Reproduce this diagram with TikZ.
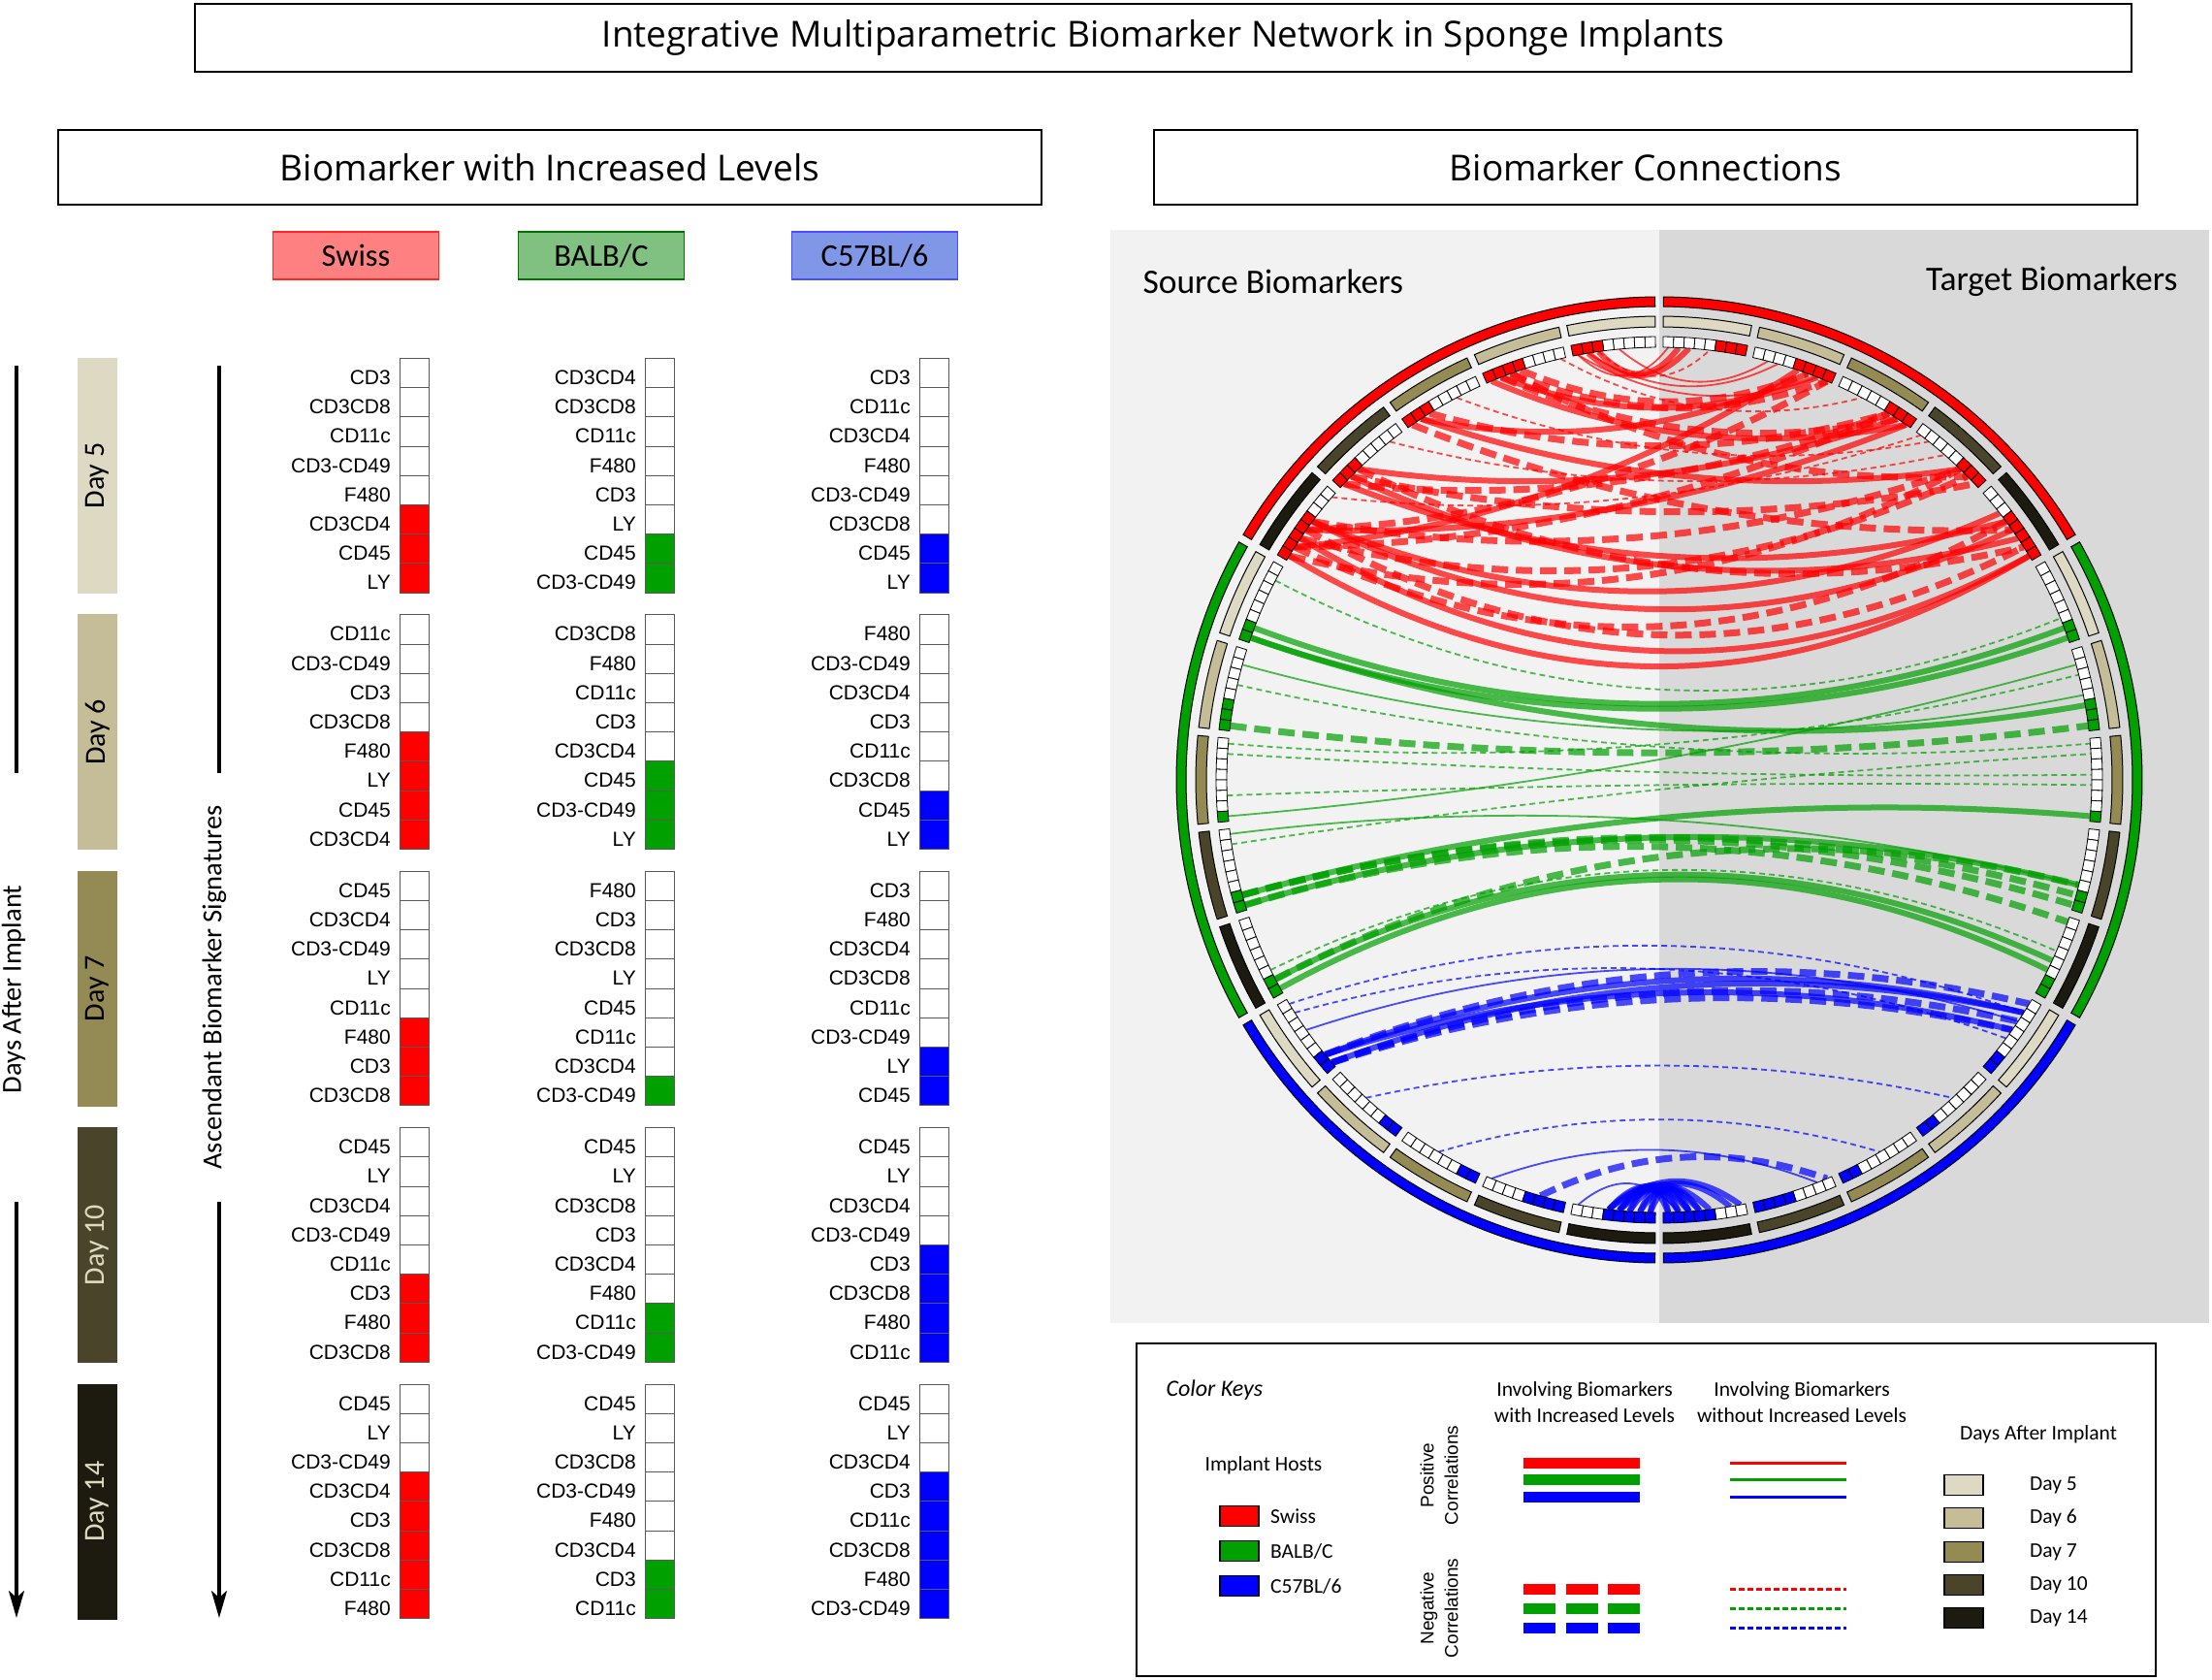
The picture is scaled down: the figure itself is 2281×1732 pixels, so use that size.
\documentclass[tikz,border=0pt]{standalone}
\usepackage{fontspec}
\setmainfont{Carlito}
\newfontfamily\arialf{Liberation Sans}
\newfontfamily\osans{Open Sans}
\usetikzlibrary{arrows.meta,calc}
\definecolor{hR}{HTML}{FF0000}
\definecolor{hG}{HTML}{00A000}
\definecolor{hB}{HTML}{0000FF}
\definecolor{dayc0}{HTML}{DDD9C3}
\definecolor{dayc1}{HTML}{C4BD97}
\definecolor{dayc2}{HTML}{948A54}
\definecolor{dayc3}{HTML}{4A452A}
\definecolor{dayc4}{HTML}{1D1B10}
\definecolor{bgL}{HTML}{F2F2F2}
\definecolor{bgR}{HTML}{D9D9D9}
\definecolor{swR}{HTML}{FF8080}
\definecolor{swG}{HTML}{80C080}
\definecolor{swB}{HTML}{7F97E6}
\newcommand\tgroup[5]{%
  \foreach \lab [count=\rr from 0] in {#5} {
    \pgfmathsetmacro\yy{369.5+264.4*#2+30.2*\rr}
    \pgfmathtruncatemacro\isc{\rr>7-#3}
    \ifnum\isc=1 \def\fc{#4}\else\def\fc{white}\fi
    \draw[cellbox, fill=\fc] (#1,\yy) rectangle ++(30,30.2);
    \node[lab] (t-#1-#2-\rr) at (#1-9,\yy+27) {\lab};
  }}
\newcommand\annsec[5]{\draw[#5] (#1:#3) arc[start angle=#1, end angle=#2, radius=#3] -- (#2:#4) arc[start angle=#2, end angle=#1, radius=#4] -- cycle;}
\begin{document}
\begin{tikzpicture}[x=1pt,y=-1pt,
  hbox/.style={draw=black, line width=1.5pt, inner sep=0pt, font=\osans\fontsize{37}{44}\selectfont},
  strain/.style={minimum width=171pt, minimum height=49pt, line width=1.2pt, inner sep=0pt, font=\fontsize{32.5}{38}\selectfont},
  cellbox/.style={draw=black!65, line width=1pt},
  lab/.style={anchor=base east, inner sep=0pt, font=\arialf\fontsize{21}{25}\selectfont},
  axisln/.style={line width=3.5pt, black},
  ringline/.style={draw=black, line width=1pt},
  chord/.style={draw opacity=0.7, line cap=butt},
  tsol/.style={chord, line width=6pt},
  tdsh/.style={chord, line width=7pt, dash pattern=on 17pt off 8pt},
  nsol/.style={chord, line width=1.8pt},
  ndsh/.style={chord, line width=1.8pt, dash pattern=on 6pt off 4pt},
  lgt/.style={font=\fontsize{21.5}{27}\selectfont, inner sep=1pt},
  swatch/.style={draw=black, line width=1.3pt, minimum width=40pt, minimum height=21pt, inner sep=0pt}
]
\useasboundingbox (0,0) rectangle (2281,1732);
\fill[white] (0,0) rectangle (2281,1732);

% headers
\node[hbox, minimum width=1997pt, minimum height=70pt] (title) at (1199.5,39) {Integrative Multiparametric Biomarker Network in Sponge Implants};
\node[hbox, minimum width=1014pt, minimum height=77pt] (lefthdr) at (567,172.5) {Biomarker with Increased Levels};
\node[hbox, minimum width=1014pt, minimum height=77pt] (righthdr) at (1697,172.5) {Biomarker Connections};

% strain boxes
\node[strain, fill=swR, draw=red!85] (swiss) at (367,263.5) {Swiss};
\node[strain, fill=swG, draw=green!45!black] (balb) at (620,263.5) {BALB/C};
\node[strain, fill=swB, draw=blue!70] (c57) at (902,263.5) {C57BL/6};

% day bands
\foreach \g/\lbl/\tc in {0/Day 5/black, 1/Day 6/black, 2/Day 7/black, 3/Day 10/dayc0, 4/Day 14/dayc0} {
  \pgfmathsetmacro\yc{369.5+264.4*\g+121}
  \node[fill=dayc\g, minimum width=41pt, minimum height=243pt, inner sep=0pt] (band\g) at (100.5,\yc) {};
  \node[rotate=90, font=\fontsize{30}{34}\selectfont, text=\tc] (bandtxt\g) at (100.5,\yc) {\lbl};
}

% axis arrows
\coordinate (d1a) at (17,377); \coordinate (d1b) at (17,797);
\coordinate (d2a) at (17,1239); \coordinate (d2b) at (17,1668);
\coordinate (e1a) at (226,377); \coordinate (e1b) at (226,797);
\coordinate (e2a) at (226,1239); \coordinate (e2b) at (226,1668);
\draw[axisln] (d1a) -- (d1b);
\draw[axisln, -{Stealth[length=28pt,width=16pt,inset=7pt]}] (d2a) -- (d2b);
\draw[axisln] (e1a) -- (e1b);
\draw[axisln, -{Stealth[length=28pt,width=16pt,inset=7pt]}] (e2a) -- (e2b);
\node[rotate=90, font=\fontsize{28.5}{32}\selectfont] (daysafter) at (14,1020) {Days After Implant};
\node[rotate=90, font=\fontsize{28.5}{32}\selectfont] (ascend) at (221,1018) {Ascendant Biomarker Signatures};

% table
\tgroup{412}{0}{3}{hR}{CD3,CD3CD8,CD11c,CD3-CD49,F480,CD3CD4,CD45,LY}
\tgroup{412}{1}{4}{hR}{CD11c,CD3-CD49,CD3,CD3CD8,F480,LY,CD45,CD3CD4}
\tgroup{412}{2}{3}{hR}{CD45,CD3CD4,CD3-CD49,LY,CD11c,F480,CD3,CD3CD8}
\tgroup{412}{3}{3}{hR}{CD45,LY,CD3CD4,CD3-CD49,CD11c,CD3,F480,CD3CD8}
\tgroup{412}{4}{5}{hR}{CD45,LY,CD3-CD49,CD3CD4,CD3,CD3CD8,CD11c,F480}
\tgroup{665}{0}{2}{hG}{CD3CD4,CD3CD8,CD11c,F480,CD3,LY,CD45,CD3-CD49}
\tgroup{665}{1}{3}{hG}{CD3CD8,F480,CD11c,CD3,CD3CD4,CD45,CD3-CD49,LY}
\tgroup{665}{2}{1}{hG}{F480,CD3,CD3CD8,LY,CD45,CD11c,CD3CD4,CD3-CD49}
\tgroup{665}{3}{2}{hG}{CD45,LY,CD3CD8,CD3,CD3CD4,F480,CD11c,CD3-CD49}
\tgroup{665}{4}{2}{hG}{CD45,LY,CD3CD8,CD3-CD49,F480,CD3CD4,CD3,CD11c}
\tgroup{948}{0}{2}{hB}{CD3,CD11c,CD3CD4,F480,CD3-CD49,CD3CD8,CD45,LY}
\tgroup{948}{1}{2}{hB}{F480,CD3-CD49,CD3CD4,CD3,CD11c,CD3CD8,CD45,LY}
\tgroup{948}{2}{2}{hB}{CD3,F480,CD3CD4,CD3CD8,CD11c,CD3-CD49,LY,CD45}
\tgroup{948}{3}{4}{hB}{CD45,LY,CD3CD4,CD3-CD49,CD3,CD3CD8,F480,CD11c}
\tgroup{948}{4}{5}{hB}{CD45,LY,CD3CD4,CD3,CD11c,CD3CD8,F480,CD3-CD49}

% circle background
\fill[bgL] (1145,237) rectangle (1711,1364);
\fill[bgR] (1711,237) rectangle (2278,1364);
\node[anchor=west, font=\fontsize{35.5}{40}\selectfont] (srcb) at (1175,290) {Source Biomarkers};
\node[anchor=east, font=\fontsize{35.5}{40}\selectfont] (tgtb) at (2249,290) {Target Biomarkers};

\begin{scope}[shift={(1711,804)}, yscale=-1]
% chords
\foreach \hA/\dA/\cA/\dB/\cB/\sty in {
 0/0/5/0/1/tsol, 0/0/6/0/2/tsol, 0/0/7/0/0/nsol, 0/0/5/0/4/ndsh, 0/0/6/1/2/nsol,
 0/0/7/1/6/nsol, 0/0/3/1/1/nsol, 0/1/4/1/5/tdsh, 0/1/5/1/7/tdsh, 0/1/6/2/6/tdsh,
 0/1/7/2/7/tsol, 0/1/5/3/6/tdsh, 0/1/6/1/6/tsol, 0/1/0/2/2/ndsh, 0/2/5/2/5/tdsh,
 0/2/6/3/5/tsol, 0/2/7/4/4/tdsh, 0/2/6/1/5/tsol, 0/2/2/3/1/ndsh, 0/3/5/2/6/tsol,
 0/3/6/3/7/tdsh, 0/3/7/4/3/tsol, 0/3/5/4/6/tdsh, 0/3/6/4/5/tsol, 0/3/7/2/5/tdsh,
 0/3/1/3/3/ndsh, 0/4/3/3/5/tdsh, 0/4/3/4/4/tsol, 0/4/4/4/6/tdsh, 0/4/4/2/7/tsol,
 0/4/5/3/6/tdsh, 0/4/5/4/7/tsol, 0/4/6/4/3/tdsh, 0/4/6/1/4/tsol, 0/4/7/4/7/tsol,
 0/4/7/3/5/tdsh, 0/4/3/4/2/tsol, 0/4/4/1/7/tdsh, 0/4/6/2/5/tdsh, 0/4/0/3/0/ndsh,
 1/0/6/0/6/tsol, 1/0/7/0/7/tsol, 1/0/7/1/5/tsol, 1/0/1/0/5/ndsh, 1/1/1/1/4/nsol,
 1/1/7/1/7/tdsh, 1/2/1/2/3/ndsh, 1/2/5/2/4/ndsh, 1/3/0/3/5/nsol, 1/3/1/2/1/ndsh,
 1/2/0/1/2/ndsh, 1/1/3/2/0/ndsh,
 1/3/6/3/7/tdsh, 1/3/7/3/5/tsol, 1/3/7/4/0/tdsh, 1/3/6/2/7/tsol, 1/4/5/4/3/ndsh,
 1/4/6/4/4/tsol, 1/4/7/4/5/tsol, 1/4/6/3/5/tdsh, 1/3/6/3/6/tdsh, 1/2/7/1/1/nsol,
 2/0/6/0/0/tdsh, 2/0/6/0/1/tsol, 2/0/7/0/2/tdsh, 2/0/7/0/3/tdsh, 2/0/6/0/3/tsol,
 2/0/7/0/1/tsol, 2/0/0/0/1/ndsh, 2/0/1/0/4/ndsh, 2/0/3/0/2/nsol, 2/1/3/1/3/ndsh,
 2/2/3/2/3/ndsh, 2/3/5/3/0/tdsh, 2/3/0/3/1/nsol, 2/4/0/4/6/nsol, 2/4/3/4/3/tsol,
 2/4/4/4/4/tsol, 2/4/5/4/5/tsol, 2/4/6/4/6/tsol, 2/4/7/4/7/tsol, 2/4/4/4/6/tsol,
 2/4/6/4/4/tsol, 2/4/7/4/5/tsol, 2/4/5/4/7/tsol, 2/4/3/4/5/tsol, 2/4/3/4/0/tsol,
 2/4/4/4/1/tsol} {
  \ifcase\hA \def\hc{hR}\or\def\hc{hG}\or\def\hc{hB}\fi
  \pgfmathsetmacro\aL{90.5+60*\hA+12*\dA+1.375*(\cA+0.5)}
  \pgfmathsetmacro\aR{180-(90.5+60*\hA+12*\dB+1.375*(\cB+0.5))}
  \pgfmathsetmacro\dif{abs(\aL-\aR)}
  \pgfmathsetmacro\dlt{180-abs(180-\dif)}
  \pgfmathsetmacro\am{(\aL+\aR)/2+180*(\dif>180)}
  \pgfmathsetmacro\cut{ifthenelse(\hA==2,145,118)}
  \pgfmathsetmacro\kk{ifthenelse(\dlt<95, 0.9-0.0012*\dlt, max(0,0.786*(1-(\dlt-95)/(\cut-95))))}
  \pgfmathsetmacro\crad{\kk*446*cos(\dlt/2)}
  \draw[\sty, draw=\hc] (\aL:446) .. controls ($(\aL:446)!0.6667!(\am:\crad)$) and ($(\aR:446)!0.6667!(\am:\crad)$) .. (\aR:446);
}
% host ring
\foreach \hh in {0,1,2} {
  \ifcase\hh \def\hc{hR}\or\def\hc{hG}\or\def\hc{hB}\fi
  \pgfmathsetmacro\hs{90.5+60*\hh}
  \pgfmathsetmacro\he{\hs+59}
  \pgfmathsetmacro\ms{180-\he}
  \pgfmathsetmacro\me{180-\hs}
  \annsec{\hs}{\he}{488}{498}{ringline, fill=\hc}
  \annsec{\ms}{\me}{488}{498}{ringline, fill=\hc}
}
% day ring and cells
\foreach \hh/\dd/\nn in {0/0/3,0/1/4,0/2/3,0/3/3,0/4/5,1/0/2,1/1/3,1/2/1,1/3/2,1/4/2,2/0/2,2/1/2,2/2/2,2/3/4,2/4/5} {
  \ifcase\hh \def\hc{hR}\or\def\hc{hG}\or\def\hc{hB}\fi
  \pgfmathsetmacro\ds{90.5+60*\hh+12*\dd}
  \pgfmathsetmacro\de{\ds+11}
  \pgfmathsetmacro\ms{180-\de}
  \pgfmathsetmacro\me{180-\ds}
  \annsec{\ds}{\de}{467}{478}{ringline, fill=dayc\dd}
  \annsec{\ms}{\me}{467}{478}{ringline, fill=dayc\dd}
  \foreach \cc in {0,...,7} {
    \pgfmathsetmacro\ca{\ds+1.375*\cc}
    \pgfmathsetmacro\cb{\ca+1.375}
    \pgfmathsetmacro\na{180-\cb}
    \pgfmathsetmacro\nb{180-\ca}
    \pgfmathtruncatemacro\isc{\cc>7-\nn}
    \ifnum\isc=1 \def\fc{\hc}\else\def\fc{white}\fi
    \annsec{\ca}{\cb}{446}{457}{draw=black, line width=0.8pt, fill=\fc}
    \annsec{\na}{\nb}{446}{457}{draw=black, line width=0.8pt, fill=\fc}
  }
}
\end{scope}

% legend
\node[draw=black, line width=1.5pt, minimum width=1051pt, minimum height=343pt, inner sep=0pt] (legend) at (1697.5,1556.5) {};
\node[anchor=west, font=\itshape\fontsize{24}{28}\selectfont] (ckeys) at (1199,1433) {Color Keys};
\node[lgt] (ihosts) at (1303,1511) {Implant Hosts};
\node[swatch, fill=hR] (swr) at (1278,1563) {};
\node[swatch, fill=hG] (swg) at (1278,1599) {};
\node[swatch, fill=hB] (swb) at (1278,1635) {};
\node[lgt, anchor=west] (swrt) at (1309,1563) {Swiss};
\node[lgt, anchor=west] (swgt) at (1309,1599) {BALB/C};
\node[lgt, anchor=west] (swbt) at (1309,1635) {C57BL/6};
\node[rotate=90, align=center, font=\arialf\fontsize{19}{25}\selectfont] (poscor) at (1484,1521) {Positive\\Correlations};
\node[rotate=90, align=center, font=\arialf\fontsize{19}{25}\selectfont] (negcor) at (1484,1658) {Negative\\Correlations};
\node[lgt, align=center] (invw) at (1634,1446) {Involving Biomarkers\\with Increased Levels};
\node[lgt, align=center] (invwo) at (1858,1446) {Involving Biomarkers\\without Increased Levels};
\foreach \yv/\cl in {1508/hR,1525/hG,1543/hB} {
  \fill[\cl] (1571,\yv-5.5) rectangle (1691,\yv+5.5);
  \draw[\cl, line width=3pt] (1784,\yv) -- (1904,\yv);
}
\foreach \yv/\cl in {1638/hR,1658/hG,1678/hB} {
  \foreach \xv in {1571,1614.5,1658} \fill[\cl] (\xv,\yv-5.5) rectangle ++(33,11);
  \draw[\cl, line width=3pt, dash pattern=on 6pt off 3pt] (1784,\yv) -- (1904,\yv);
}
\node[lgt] (daysleg) at (2102,1479) {Days After Implant};
\foreach \g/\lbl/\yv in {0/Day 5/1531, 1/Day 6/1565, 2/Day 7/1600, 3/Day 10/1634, 4/Day 14/1668} {
  \node[swatch, fill=dayc\g] (dsw\g) at (2025,\yv) {};
  \node[lgt, anchor=west] (dswt\g) at (2092,\yv) {\lbl};
}
\end{tikzpicture}
\end{document}
